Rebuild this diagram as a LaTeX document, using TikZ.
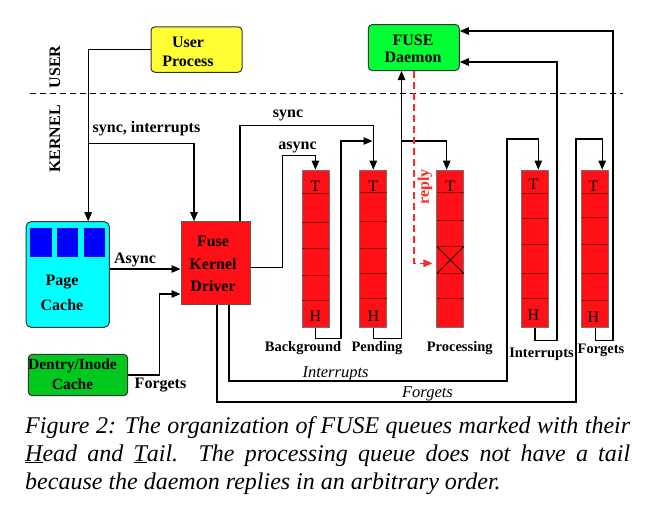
\documentclass[tikz,border=0pt]{standalone}
\usepackage{fontspec}
\setmainfont{Liberation Serif}
\usetikzlibrary{arrows.meta,calc}
\newcommand\myfs[2]{\fontsize{#1}{#2}\selectfont}
\definecolor{qred}{RGB}{255,16,22}
\definecolor{qdark}{RGB}{150,0,0}
\definecolor{uyellow}{RGB}{255,255,51}
\definecolor{dgreen}{RGB}{0,255,51}
\definecolor{cgreen}{RGB}{0,200,30}
\definecolor{pcyan}{RGB}{0,255,255}
\definecolor{pblue}{RGB}{0,0,255}
\definecolor{rline}{RGB}{255,40,40}
\newcommand\fusequeue[3]{%
  \node[qbox] (#1) at (#2,248.75) {};
  \foreach \yy in {#3} {\draw[qdiv] ({#2-13.2},\yy) -- ({#2+13.2},\yy);}
}
\begin{document}
\begin{tikzpicture}[x=1pt,y=-1pt,
  conn/.style={line width=1.1pt,draw=black},
  arr/.style={conn,-{Triangle[length=9pt,width=7.5pt]}},
  reply/.style={line width=1.5pt,draw=rline,dash pattern=on 7pt off 4pt,-{Triangle[length=9pt,width=7.5pt]}},
  box/.style={draw=black!80,line width=1pt,inner sep=0pt},
  qbox/.style={draw=black!55,line width=0.7pt,fill=qred,minimum width=27pt,minimum height=157.5pt,inner sep=0pt},
  qdiv/.style={draw=qdark,line width=0.9pt},
  qlab/.style={font=\bfseries\myfs{14.5}{17},anchor=base,inner sep=0pt},
  blab/.style={font=\bfseries\myfs{16}{19},anchor=base,inner sep=0pt},
  ilab/.style={font=\itshape\myfs{16.5}{19},anchor=base,inner sep=0pt},
  cellt/.style={font=\myfs{16}{18},anchor=base,inner sep=0pt},
  boxtext/.style={font=\bfseries\myfs{16}{#1},align=center,inner sep=0pt},
  captxt/.style={font=\itshape\myfs{24}{28},anchor=base west,inner sep=0pt},
]
\useasboundingbox (0,0) rectangle (660,512);

% user / kernel separator
\draw[line width=0.9pt,dash pattern=on 6pt off 4pt] (30,93) -- (623,93);
\node[rotate=90,font=\bfseries\myfs{16}{19}] (userlbl) at (55,67) {USER};
\node[rotate=90,font=\bfseries\myfs{16}{19}] (kernlbl) at (55,139) {KERNEL};

% boxes
\node[box,rounded corners=4pt,fill=uyellow,minimum width=91pt,minimum height=45.5pt] (up) at (196.5,49.5) {};
\node[boxtext=19] (upt) at (188,52) {User\\Process};
\node[box,rounded corners=4pt,fill=dgreen,minimum width=91pt,minimum height=46pt] (fd) at (413.8,47.5) {};
\node[boxtext=17] (fdt) at (413,49) {FUSE\\Daemon};
\node[draw=black!65,line width=1pt,inner sep=0pt,fill=qred,minimum width=69pt,minimum height=82.6pt] (fkd) at (215.5,263) {};
\node[boxtext=22.5] (fkdt) at (213,264) {Fuse\\Kernel\\Driver};
\node[box,rounded corners=5pt,fill=pcyan,minimum width=83.3pt,minimum height=105.6pt] (pc) at (67.7,274.5) {};
\node[fill=pblue,minimum width=21.6pt,minimum height=29.6pt,inner sep=0pt] (pcb1) at (40.85,242.5) {};
\node[fill=pblue,minimum width=21.6pt,minimum height=29.6pt,inner sep=0pt] (pcb2) at (67.5,242.5) {};
\node[fill=pblue,minimum width=21.6pt,minimum height=29.6pt,inner sep=0pt] (pcb3) at (94.65,242.5) {};
\node[boxtext=24.5] (pct) at (62,293) {Page\\Cache};
\node[box,rounded corners=4pt,fill=cgreen,minimum width=99.4pt,minimum height=41.4pt] (dc) at (78,375) {};
\node[font=\bfseries\myfs{15.5}{20},align=center,inner sep=0pt] (dct) at (72.5,374) {Dentry/Inode\\Cache};

% queues
\fusequeue{bg}{315.4}{193.3,222.3,248.3,275.3,300.7}
\fusequeue{pend}{373.3}{192.7,221.7,248.3,273.3,298.3}
\fusequeue{proc}{450.3}{192.7,220,246.7,273.3,298.3}
\fusequeue{intr}{535}{193,218.3,244.3,273.3,298.3}
\fusequeue{forg}{595.2}{193.3,217.7,244.3,273.3,300.7}
\draw[line width=0.7pt] (437,246.7) -- (463.6,273.3) (437,273.3) -- (463.6,246.7);

\node[cellt] (bgT) at (315.4,191) {T};
\node[cellt] (bgH) at (315.4,321.5) {H};
\node[cellt] (pendT) at (373.3,191) {T};
\node[cellt] (pendH) at (373.3,321.5) {H};
\node[cellt] (procT) at (450.3,191.5) {T};
\node[cellt] (intrT) at (533.5,189) {T};
\node[cellt] (intrH) at (533.5,320) {H};
\node[cellt] (forgT) at (593.5,191.5) {T};
\node[cellt] (forgH) at (593.5,322) {H};

\node[qlab] (bgl) at (303,351.7) {Background};
\node[qlab] (pendl) at (377,351.7) {Pending};
\node[qlab] (procl) at (459.7,351.7) {Processing};
\node[qlab] (intrl) at (541.5,357.3) {Interrupts};
\node[qlab] (forgl) at (601,353.3) {Forgets};

% labels
\node[blab] (lsi) at (146.5,132) {sync, interrupts};
\node[blab] (lasync1) at (135,263) {Async};
\node[blab] (lforg1) at (160.5,388.5) {Forgets};
\node[blab] (lsync) at (288,117.5) {sync};
\node[blab] (lasync2) at (297.5,149) {async};
\node[ilab] (lintr) at (335.5,377.3) {Interrupts};
\node[ilab] (lforg2) at (427.5,397) {Forgets};
\node[rotate=90,font=\bfseries\myfs{16}{18},text=rline,inner sep=0pt] (lreply) at (425,187) {reply};

% connectors
\coordinate (b1) at (88.3,143.3);
\coordinate (b2) at (401.5,141);
\coordinate (j1) at (372.5,141);
\draw[arr] (up.west) -| ($(pc.north)+(20.5,0)$);
\draw[arr] (b1) -| ($(fkd.north)+(-21.5,0)$);
\draw[arr] ($(pc.east)+(0,-5.5)$) -- ($(fkd.west)+(0,6)$);
\draw[arr] (dc.east) -- ++(31,0) |- ($(fkd.west)+(0,31)$);
\draw[arr] ($(fkd.north)+(24.5,0)$) -- ++(0,-96) -| (pend.north);
\draw[arr] ($(fkd.east)+(0,4.3)$) -- ++(31.7,0) -- ++(0,-111.6) -| (bg.north);
\draw[arr] (bg.south) -- ++(0,11) -| (341,141) -- (j1);
\draw[arr] (pend.south) -- ++(0,11) -| ($(fd.south)+(-12.3,0)$);
\draw[arr] (b2) -| ($(proc.north)+(-3.6,0)$);
\draw[reply] (fd.south) |- ($(proc.west)+(-4,14.5)$);
\draw[arr] ($(fkd.south)+(13.5,0)$) |- (507,381) -- (507,139) -| ($(intr.north)+(3.3,0)$);
\draw[arr] ($(fkd.south)+(1.5,0)$) |- (576,402) -- (576,139) -| ($(forg.north)+(7,0)$);
\draw[arr] (intr.south) -- ++(0,12.3) -| (557,62) -- ($(fd.east)+(0,14.5)$);
\draw[arr] (forg.south) -- ++(0,12.3) -| (613,31) -- ($(fd.east)+(0,-16.5)$);

% caption
\node[captxt] (cap1) at (25,433) {\makebox[605pt][s]{Figure 2: The organization of FUSE queues marked with their}};
\node[captxt] (cap2) at (25,461) {\makebox[605pt][s]{\underline{H}ead and \underline{T}ail.\ \ The processing queue does not have a tail}};
\node[captxt] (cap3) at (25,489) {because the daemon replies in an arbitrary order.};
\end{tikzpicture}
\end{document}
